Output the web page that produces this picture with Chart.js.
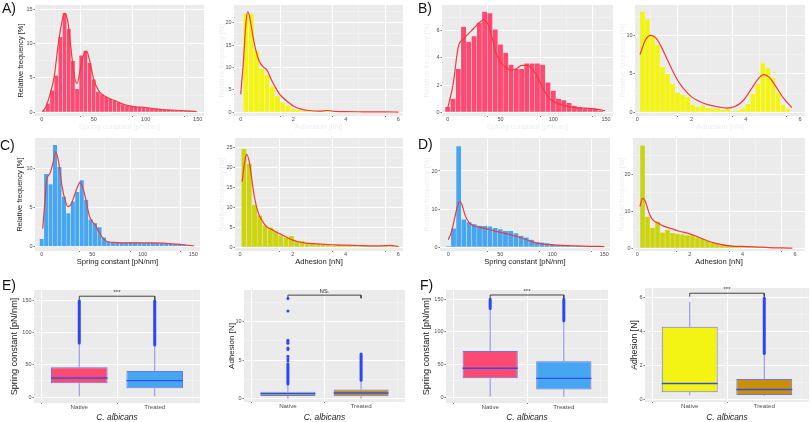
<!DOCTYPE html>
<html><head><meta charset="utf-8">
<script src="https://cdn.jsdelivr.net/npm/chart.js@4.4.1/dist/chart.umd.min.js"></script>
<style>
html,body{margin:0;padding:0;background:#fff;width:810px;height:422px;overflow:hidden;position:relative;font-family:"Liberation Sans",Arial,sans-serif}
canvas{position:absolute}
.lab{position:absolute;font-size:14px;line-height:14px;color:#111;z-index:5}
</style></head><body>
<div class="lab" style="left:2px;top:1px">A)</div>
<div class="lab" style="left:418px;top:1px">B)</div>
<div class="lab" style="left:0px;top:138px">C)</div>
<div class="lab" style="left:418px;top:137px">D)</div>
<div class="lab" style="left:2px;top:278px">E)</div>
<div class="lab" style="left:420px;top:278px">F)</div>
<script>
// ---------- DATA ----------
const springMajor = [0, 50, 100, 150];
const springMinor = [25, 75, 125];
const adhMajor = [0, 2, 4, 6];
const adhMinor = [1, 3, 5];
const freqLabel = 'Relative frequency [%]';
const springLabel = 'Spring constant [pN/nm]';
const adhLabel = 'Adhesion [nN]';
const adhBoxLabel = 'Adhesion [N]';
const speciesLabel = 'C. albicans';
const boxCategories = ['Native', 'Treated'];

// A) spring constant histogram
const A_springBins = [2,6,10,14,18,22,26,30,34,38,42,46,50,54,58,62,66,70,74,78,82,86,90,94,98,102,106,110,114,118,122,126,130,134,138,142,146];
const A_springFreq = [0.3,1.3,3.2,5.4,11.0,14.5,12.2,7.5,3.4,8.3,9.0,7.2,4.8,3.0,2.6,2.3,2.0,1.7,1.4,1.2,1.0,0.9,0.8,0.75,0.7,0.65,0.6,0.5,0.45,0.4,0.35,0.3,0.3,0.25,0.25,0.2,0.2];
const A_springFitX = [1,4,8,12,16,20,22,25,28,31,34,37,40,43,46,50,55,60,70,80,90,100,110,120,130,140,149];
const A_springFitY = [0.1,0.8,2.6,5.2,10.0,13.6,14.4,13.3,9.5,5.6,4.2,6.2,8.2,8.9,7.6,4.8,3.1,2.4,1.7,1.1,0.8,0.7,0.5,0.35,0.3,0.2,0.1];
// A) adhesion histogram
const A_adhBins = [0.2,0.4,0.6,0.8,1.0,1.2,1.4,1.6,1.8,2.0,2.2,2.4,2.6,2.8,3.0,3.2,3.4,3.6,3.8,4.0,4.2,4.4,4.6,4.8,5.0,5.2,5.4,5.6,5.8,6.0];
const A_adhFreq = [22.0,22.0,13.8,9.8,8.4,5.8,3.6,2.2,1.5,0.9,0.6,0.4,0.3,0.3,0.2,0.25,0.4,0.2,0.15,0.15,0.1,0.1,0.1,0.1,0.1,0.1,0.1,0.05,0.05,0.05];
const A_adhFitX = [0,0.1,0.2,0.27,0.35,0.45,0.55,0.7,0.85,1.0,1.15,1.3,1.45,1.6,1.8,2.0,2.3,2.6,3.0,3.3,3.6,4.0,4.5,5.0,5.5,6.0];
const A_adhFitY = [4.0,11.0,20.0,22.5,21.0,17.5,14.5,11.5,10.2,9.4,7.5,5.8,4.3,3.3,2.3,1.4,0.7,0.4,0.25,0.4,0.2,0.15,0.12,0.1,0.1,0.05];

// B) spring constant histogram
const B_springBins = [0,5,10,15,20,25,30,35,40,45,50,55,60,65,70,75,80,85,90,95,100,105,110,115,120,125,130,135,140,145];
const B_springFreq = [0.4,1.0,3.2,6.3,5.2,5.6,6.6,7.4,7.3,6.1,5.0,4.4,3.5,3.2,3.2,3.6,3.6,3.6,3.5,2.2,1.6,1.0,0.9,0.7,0.5,0.4,0.3,0.25,0.25,0.15];
const B_springFitX = [0,5,10,15,20,25,30,34,38,42,46,50,55,60,65,70,75,80,85,90,95,100,110,120,130,140,149];
const B_springFitY = [0.3,2.0,4.8,5.4,5.8,6.2,6.6,6.8,6.5,5.5,4.3,3.7,3.3,3.1,3.2,3.45,3.45,3.2,2.6,1.8,1.15,0.8,0.5,0.35,0.3,0.25,0.12];
// B) adhesion histogram
const B_adhBins = [0.19,0.375,0.56,0.745,0.93,1.115,1.3,1.485,1.67,1.855,2.04,2.225,2.41,2.595,2.78,2.965,3.15,3.335,3.52,3.705,3.89,4.075,4.26,4.445,4.63,4.815,5.0,5.185,5.37,5.555];
const B_adhFreq = [13.1,12.1,9.9,8.8,5.9,5.0,3.7,2.6,2.3,2.0,1.0,0.7,0.9,0.6,0.5,0.5,0.4,0.5,0.2,0.3,0.5,1.1,2.4,3.7,6.4,5.8,4.5,2.6,1.0,0.5];
const B_adhFitX = [0.1,0.3,0.5,0.7,0.9,1.1,1.3,1.5,1.7,2.0,2.3,2.6,3.0,3.3,3.6,3.9,4.2,4.45,4.65,4.85,5.1,5.4,5.7];
const B_adhFitY = [7.5,9.4,10.0,9.6,8.4,6.9,5.4,4.1,3.1,2.0,1.4,1.0,0.7,0.55,0.75,1.5,3.0,4.3,4.9,4.6,3.4,1.8,0.6];

// C) spring constant histogram
const C_springBins = [0,4.4,8.8,13.2,17.6,22,26.4,30.8,35.2,39.6,44,48.4,52.8,57.2,61.6,66,70.4,74.8,79.2,83.6,88,92.4,96.8,101.2,105.6,110,114.4,118.8,123.2,127.6,132,136.4,140.8,145.2,149.6];
const C_springFreq = [1.0,9.3,8.0,13.0,10.2,6.4,4.3,5.8,7.0,8.5,6.0,3.5,3.0,2.5,1.2,0.7,0.6,0.55,0.55,0.55,0.6,0.55,0.55,0.5,0.5,0.5,0.5,0.45,0.4,0.4,0.35,0.3,0.3,0.25,0.15];
const C_springFitX = [1,3,5,8,11,14,17,20,23,26,29,32,35,38,41,44,47,50,53,56,60,64,70,80,90,100,110,120,130,140,150];
const C_springFitY = [2.3,5.5,8.6,9.3,10.6,12.1,10.6,7.8,6.0,5.1,5.4,6.4,7.5,8.2,7.4,5.8,4.0,3.2,2.8,2.0,1.2,0.7,0.55,0.5,0.5,0.5,0.5,0.45,0.35,0.25,0.1];
// C) adhesion histogram
const C_adhBins = [0.15,0.35,0.55,0.75,0.95,1.15,1.35,1.55,1.75,1.95,2.15,2.35,2.55,2.75,2.95,3.15,3.35,3.55,3.75,3.95,4.15,4.35,4.55,4.75,4.95,5.15,5.35,5.55,5.75,5.95];
const C_adhFreq = [24.7,21.0,10.7,8.0,5.6,5.0,4.1,3.0,2.5,2.9,1.6,1.6,1.0,1.2,0.8,0.7,0.6,0.5,0.6,0.5,0.5,0.4,0.5,0.3,0.3,0.3,0.3,0.4,0.4,0.3];
const C_adhFitX = [0.08,0.18,0.25,0.35,0.45,0.55,0.7,0.85,1.0,1.2,1.4,1.6,1.8,2.0,2.2,2.5,2.8,3.2,3.6,4.0,4.5,5.0,5.5,5.7,6.0];
const C_adhFitY = [16.5,21.5,23.3,21.5,17.0,12.5,8.5,6.6,5.2,4.5,3.7,3.1,2.4,1.8,1.4,1.05,0.9,0.75,0.6,0.55,0.45,0.35,0.4,0.5,0.2];

// D) spring constant histogram
const D_springBins = [0,5,10,15,20,25,30,35,40,45,50,55,60,65,70,75,80,85,90,95,100,105,110,115,120,125,130,135,140,145];
const D_springFreq = [0.3,5.0,26.5,7.3,6.6,6.1,5.7,5.6,5.5,5.1,4.8,4.3,4.3,3.7,3.1,2.6,2.0,1.4,1.3,1.1,0.9,0.7,0.6,0.5,0.4,0.4,0.3,0.3,0.3,0.2];
const D_springFitX = [0,3,6,9,11,13,16,20,25,30,40,50,60,70,80,90,100,110,120,130,140,150];
const D_springFitY = [2.0,4.0,7.5,11.0,12.0,11.3,8.5,6.5,5.6,5.3,4.6,3.9,3.3,2.5,1.5,0.9,0.65,0.5,0.4,0.3,0.25,0.2];
// D) adhesion histogram
const D_adhBins = [0.2,0.39,0.58,0.77,0.96,1.15,1.34,1.53,1.72,1.91,2.1,2.29,2.48,2.67,2.86,3.05,3.24,3.43,3.62,3.81,4.0,4.19,4.38,4.57,4.76,4.95,5.14,5.33,5.52,5.71];
const D_adhFreq = [27.8,8.6,5.6,7.2,4.3,5.0,4.2,4.0,3.8,3.6,3.6,3.0,2.6,2.0,1.5,1.3,1.0,0.9,0.8,0.6,0.5,0.5,0.4,0.4,0.3,0.3,0.2,0.2,0.1,0.1];
const D_adhFitX = [0.1,0.2,0.3,0.45,0.6,0.8,1.0,1.3,1.6,1.9,2.2,2.5,2.8,3.2,3.6,4.0,4.5,5.0,5.5,5.9];
const D_adhFitY = [11.3,13.5,12.8,9.5,7.6,6.8,6.0,5.3,4.6,4.1,3.4,2.5,1.7,1.0,0.6,0.5,0.4,0.2,0.1,0.05];

// E) box plots
const E_springLow = [1, 1];
const E_springQ1 = [21.3, 13.5];
const E_springMed = [29.6, 25.5];
const E_springQ3 = [46.3, 40.5];
const E_springHigh = [84, 81];
const E_springDenseLo = [84, 81];
const E_springDenseHi = [150, 150];
const E_springOutliers = [[], []];
const E_springSig = ['***', 157, 152];

const E_adhLow = [0, 0];
const E_adhQ1 = [0.35, 0.33];
const E_adhMed = [0.65, 0.75];
const E_adhQ3 = [0.91, 1.2];
const E_adhHigh = [1.9, 2.3];
const E_adhDenseLo = [1.9, 2.4];
const E_adhDenseHi = [4.5, 5.8];
const E_adhOutliers = [[13.0, 11.4, 7.6, 7.4, 7.2, 6.6, 6.4, 5.5, 5.2, 4.9], []];
const E_adhSig = ['NS.', 13.45, 13.05];

// F) box plots
const F_springLow = [1, 0.5];
const F_springQ1 = [29, 12];
const F_springMed = [44.4, 29];
const F_springQ3 = [71, 55];
const F_springHigh = [136, 117];
const F_springDenseLo = [136, 117];
const F_springDenseHi = [150, 150];
const F_springOutliers = [[], []];
const F_springSig = ['***', 156.6, 151.5];

const F_adhLow = [0.25, 0.2];
const F_adhQ1 = [0.42, 0.25];
const F_adhMed = [0.93, 0.58];
const F_adhQ3 = [4.27, 1.19];
const F_adhHigh = [5.72, 2.7];
const F_adhDenseLo = [null, 2.7];
const F_adhDenseHi = [null, 5.95];
const F_adhOutliers = [[], []];
const F_adhSig = ['***', 6.24, 6.04];

// ---------- STYLE / LAYOUT ----------
const FONT = '"Liberation Sans", Arial, Helvetica, sans-serif';
Chart.defaults.font.family = FONT;
const PINK = '#fd4a72', YEL = '#f3f314', BLUE = '#46a6f2', OLIVE = '#cbd40f', GOLD = '#c98f0b';
const FIT = '#ef3a3c', INK = '#1a1a1a', FAINT = '#eeeeee';
const OUT = '#2b46f5', WHISK = '#8c8cf0', BOXLINE = '#6d76e4', MED = '#2f52e6';

const panelBg = {id:'panelBg', beforeDraw(c){const a=c.chartArea,x=c.ctx;x.save();x.fillStyle='#ebebeb';x.fillRect(a.left,a.top,a.right-a.left,a.bottom-a.top);x.restore();}};
const sigLabel = {id:'sigLabel', afterDatasetsDraw(c, args, o){
  if(!o || !o.text) return;
  const x=c.scales.x.getPixelForValue(1.5), y=c.scales.y.getPixelForValue(o.y);
  const ctx=c.ctx; ctx.save(); ctx.font='6px '+FONT; ctx.fillStyle='#333'; ctx.textAlign='center'; ctx.textBaseline='bottom';
  ctx.fillText(o.text, x, y-0.5); ctx.restore();
}};

function lin(ref, px){ return ref[0] + (px - ref[1]) * (ref[2]-ref[0]) / (ref[3]-ref[1]); }

function place(p){
  const lh = p.ytf*1.2, lhx = p.xtf*1.2;
  const left = Math.floor(p.ytx - lh/2 - 1);
  const top = p.t - 6;
  const bottom = Math.ceil(p.xty + lhx/2 + 1);
  const cv = document.createElement('canvas');
  cv.width = p.r + 4 - left; cv.height = bottom - top;
  cv.style.left = left + 'px'; cv.style.top = top + 'px';
  document.body.appendChild(cv);
  return {cv, yw: p.l - left, xh: bottom - p.b, yPad: p.ytx - left - lh/2, xPad: bottom - p.xty - lhx/2};
}

function axis(major, minor, min, max, o){
  const all = major.concat(minor).filter(v => v >= min && v <= max).sort((a,b)=>a-b);
  const isMaj = v => major.includes(v);
  const tv = c => (c && c.tick) ? c.tick.value : null;
  return {
    type:'linear', min, max, offset:false,
    afterBuildTicks: s => { s.ticks = all.map(v => ({value:v})); },
    afterFit: s => { if (s.isHorizontal()) s.height = o.size; else s.width = o.size; },
    ticks:{autoSkip:false, maxRotation:0, minRotation:0, padding:o.pad, color:'#4d4d4d', font:{size:o.tf},
      callback: v => isMaj(v) ? (o.labels ? o.labels[major.indexOf(v)] : String(v)) : ''},
    grid:{drawTicks:true, tickLength:o.tl,
      color: c => isMaj(tv(c)) ? '#ffffff' : 'rgba(255,255,255,0.6)',
      lineWidth: c => isMaj(tv(c)) ? 1 : 0.5,
      tickColor: c => isMaj(tv(c)) ? '#555555' : 'rgba(0,0,0,0)', tickWidth:0.8},
    border:{display:false},
    title:{display:true, text:o.title, color:o.tc, font:{size:o.ttf, style:o.italic?'italic':'normal'}, padding:o.tpad}
  };
}

function baseOptions(g, xs, ys){
  return {responsive:false, animation:false, devicePixelRatio:1, events:[],
    layout:{autoPadding:false, padding:{top:6, right:4, left:0, bottom:0}},
    plugins:{legend:{display:false}, tooltip:{enabled:false}},
    scales:{x:xs, y:ys}};
}

function hist(p, bins, freq, fitX, fitY, color, xMajor, xMinor, yMajor, yMinor){
  const g = place(p);
  const xmin = lin(p.xref, p.l), xmax = lin(p.xref, p.r);
  const ymin = lin(p.yref, p.b), ymax = lin(p.yref, p.t);
  const xs = axis(xMajor, xMinor, xmin, xmax, {size:g.xh, pad:-1, tl:1, tf:5.5, title:p.xtitle, tc:p.xtc, ttf:p.xtf, tpad:{top:0,bottom:g.xPad}});
  const ys = axis(yMajor, yMinor, ymin, ymax, {size:g.yw, pad:1, tl:1.5, tf:5.5, title:p.ytitle, tc:p.ytc, ttf:p.ytf, tpad:{top:g.yPad,bottom:0}});
  new Chart(g.cv, {type:'bar', plugins:[panelBg],
    data:{datasets:[
      {type:'bar', data:bins.map((x,i)=>({x, y:freq[i]})), backgroundColor:color, borderColor:'rgba(255,255,255,0.4)', borderWidth:0.5, barPercentage:1, categoryPercentage:1, order:1},
      {type:'line', data:fitX.map((x,i)=>({x, y:fitY[i]})), borderColor:FIT, borderWidth:1.2, pointRadius:0, cubicInterpolationMode:'monotone', fill:false, order:0}
    ]},
    options: baseOptions(g, xs, ys)});
}

function box(p, low, q1, med, q3, high, dLo, dHi, outl, sig, colors, yMajor, yMinor){
  const g = place(p);
  const ymin = lin(p.yref, p.b), ymax = lin(p.yref, p.t);
  const xs = axis([1,2], [], 0.4, 2.6, {size:g.xh, pad:0, tl:1, tf:6.2, labels:boxCategories, title:speciesLabel, tc:INK, ttf:p.xtf, italic:true, tpad:{top:0,bottom:g.xPad}});
  const ys = axis(yMajor, yMinor, ymin, ymax, {size:g.yw, pad:1, tl:1.5, tf:5.5, title:p.ytitle, tc:INK, ttf:p.ytf, tpad:{top:g.yPad,bottom:0}});
  const whisk = [], dense = [], pts = [];
  boxCategories.forEach((c,i)=>{
    const x = i+1;
    whisk.push({x, y:low[i]}, {x, y:q1[i]}, {x, y:null}, {x, y:q3[i]}, {x, y:high[i]}, {x, y:null});
    if (dLo[i] !== null) dense.push({x, y:dLo[i]}, {x, y:dHi[i]}, {x, y:null});
    outl[i].forEach(v => pts.push({x, y:v}));
  });
  const halfBox = c => { const s = c.chart.scales.x; return Math.abs(s.getPixelForValue(1.375) - s.getPixelForValue(1)); };
  const opts = baseOptions(g, xs, ys);
  opts.plugins.sigLabel = {text:sig[0], y:sig[1]};
  new Chart(g.cv, {type:'bar', plugins:[panelBg, sigLabel],
    data:{datasets:[
      {type:'line', data:whisk, borderColor:WHISK, borderWidth:1, pointRadius:0, spanGaps:false, order:5},
      {type:'bar', data:boxCategories.map((c,i)=>({x:i+1, y:[q1[i], q3[i]]})), backgroundColor:colors, borderColor:BOXLINE, borderWidth:1, borderSkipped:false, barPercentage:0.75, categoryPercentage:1, order:4},
      {type:'scatter', data:boxCategories.map((c,i)=>({x:i+1, y:med[i]})), pointStyle:'line', pointRadius:halfBox, pointBorderColor:MED, pointBorderWidth:1.4, order:3},
      {type:'line', data:dense, borderColor:OUT, borderWidth:3, borderCapStyle:'round', pointRadius:0, spanGaps:false, order:2},
      {type:'scatter', data:pts, pointRadius:1.5, pointBackgroundColor:OUT, pointBorderWidth:0, order:1},
      {type:'line', data:[{x:1,y:sig[2]},{x:1,y:sig[1]},{x:2,y:sig[1]},{x:2,y:sig[2]}], borderColor:'#444', borderWidth:1, pointRadius:0, order:0}
    ]},
    options: opts});
}

const R1 = {t:5, b:116, xty:127.3, xtf:7.6}, R2 = {t:138, b:251, xty:262.3, xtf:7.6}, R3 = {t:290, b:403, xty:417.7, xtf:8.4};

hist(Object.assign({}, R1, {l:35, r:204, xref:[0,41.7,150,197.7], yref:[0,112.3,15,9.3], ytx:20.5, ytf:7.4, ytitle:freqLabel, ytc:INK, xtitle:springLabel, xtc:FAINT}),
  A_springBins, A_springFreq, A_springFitX, A_springFitY, PINK, springMajor, springMinor, [0,5,10,15], [2.5,7.5,12.5]);
hist(Object.assign({}, R1, {l:234, r:403, xref:[0,240.7,6,398.3], yref:[0,112.3,20,22.7], ytx:221.7, ytf:7.4, ytitle:freqLabel, ytc:FAINT, xtitle:adhLabel, xtc:FAINT}),
  A_adhBins, A_adhFreq, A_adhFitX, A_adhFitY, YEL, adhMajor, adhMinor, [0,5,10,15,20], [2.5,7.5,12.5,17.5,22.5]);
hist(Object.assign({}, R1, {l:442, r:613, xref:[0,447.7,150,606], yref:[0,112.3,6,30.7], ytx:426.7, ytf:7.4, ytitle:freqLabel, ytc:FAINT, xtitle:springLabel, xtc:FAINT}),
  B_springBins, B_springFreq, B_springFitX, B_springFitY, PINK, springMajor, springMinor, [0,2,4,6], [1,3,5,7]);
hist(Object.assign({}, R1, {l:635, r:805, xref:[0,637.3,6,800], yref:[0,112.3,10,35.3], ytx:623, ytf:7.4, ytitle:freqLabel, ytc:FAINT, xtitle:adhLabel, xtc:FAINT}),
  B_adhBins, B_adhFreq, B_adhFitX, B_adhFitY, YEL, adhMajor, adhMinor, [0,5,10], [2.5,7.5,12.5]);

hist(Object.assign({}, R2, {l:35, r:200, xref:[0,41.7,150,193.3], yref:[0,246.7,10,168.3], ytx:19.5, ytf:7.4, ytitle:freqLabel, ytc:INK, xtitle:springLabel, xtc:INK}),
  C_springBins, C_springFreq, C_springFitX, C_springFitY, BLUE, springMajor, springMinor, [0,5,10], [2.5,7.5,12.5]);
hist(Object.assign({}, R2, {l:235, r:403, xref:[0,240,6,398.3], yref:[0,247.3,25,147.7], ytx:222, ytf:7.4, ytitle:freqLabel, ytc:FAINT, xtitle:adhLabel, xtc:INK}),
  C_adhBins, C_adhFreq, C_adhFitX, C_adhFitY, OLIVE, adhMajor, adhMinor, [0,5,10,15,20,25], [2.5,7.5,12.5,17.5,22.5]);
hist(Object.assign({}, R2, {l:440, r:610, xref:[0,448.3,150,604.3], yref:[0,247.3,20,171], ytx:427, ytf:7.4, ytitle:freqLabel, ytc:FAINT, xtitle:springLabel, xtc:INK}),
  D_springBins, D_springFreq, D_springFitX, D_springFitY, BLUE, springMajor, springMinor, [0,10,20], [5,15,25]);
hist(Object.assign({}, R2, {l:633, r:805, xref:[0,637.3,6,795], yref:[0,248.3,20,174.3], ytx:621.7, ytf:7.4, ytitle:freqLabel, ytc:FAINT, xtitle:adhLabel, xtc:INK}),
  D_adhBins, D_adhFreq, D_adhFitX, D_adhFitY, OLIVE, adhMajor, adhMinor, [0,10,20], [5,15,25]);

box(Object.assign({}, R3, {l:34, r:200, yref:[0,397,150,300.7], ytx:14.5, ytf:9.1, ytitle:springLabel}),
  E_springLow, E_springQ1, E_springMed, E_springQ3, E_springHigh, E_springDenseLo, E_springDenseHi, E_springOutliers, E_springSig, [PINK, BLUE], [0,50,100,150], [25,75,125]);
box(Object.assign({}, R3, {l:244, r:405, b:402, yref:[0,398.7,10,321.7], ytx:231.7, ytf:8.0, ytitle:adhBoxLabel}),
  E_adhLow, E_adhQ1, E_adhMed, E_adhQ3, E_adhHigh, E_adhDenseLo, E_adhDenseHi, E_adhOutliers, E_adhSig, [YEL, GOLD], [0,5,10], [2.5,7.5,12.5]);
box(Object.assign({}, R3, {l:446, r:608, yref:[0,397.3,150,299.3], ytx:426.7, ytf:9.1, ytitle:springLabel}),
  F_springLow, F_springQ1, F_springMed, F_springQ3, F_springHigh, F_springDenseLo, F_springDenseHi, F_springOutliers, F_springSig, [PINK, BLUE], [0,50,100,150], [25,75,125]);
box(Object.assign({}, R3, {l:645, r:809, t:288, b:402, yref:[0,399.3,6,297.3], ytx:635, ytf:8.7, ytitle:adhBoxLabel}),
  F_adhLow, F_adhQ1, F_adhMed, F_adhQ3, F_adhHigh, F_adhDenseLo, F_adhDenseHi, F_adhOutliers, F_adhSig, [YEL, GOLD], [0,2,4,6], [1,3,5]);
</script>
</body></html>
